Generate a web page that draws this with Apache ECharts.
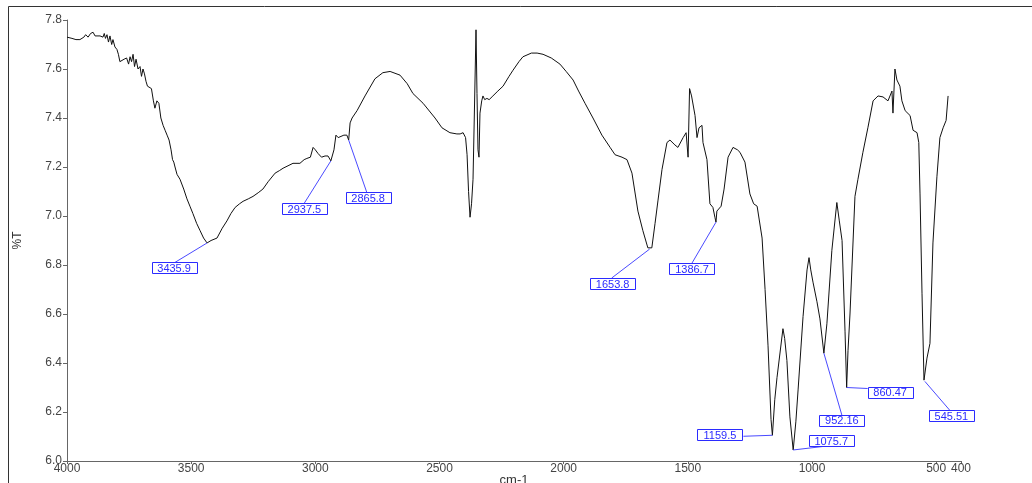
<!DOCTYPE html>
<html><head><meta charset="utf-8">
<script src="https://cdn.jsdelivr.net/npm/echarts@6/dist/echarts.min.js"></script>
<style>html,body{margin:0;padding:0;background:#fff}#c{width:1032px;height:483px}</style>
</head><body><div id="c"></div>
<script>
// Spectrum (wavenumber, %T)
const wavenumbers = [
 4000,3996,3980,3964,3948,3932,3925,3915,3905,3895,3887,3879,3867,3860,3855,3850,3845,3839,3833,3827,
 3820,3815,3807,3799,3793,3787,3780,3770,3760,3752,3746,3740,3734,3728,3722,3714,3706,3700,3694,3688,
 3682,3676,3668,3660,3652,3646,3638,3630,3622,3613,3605,3597,3589,3581,3575,3570,3565,3557,3545,3530,
 3517,3505,3493,3478,3464,3450,3436,3420,3396,3375,3356,3340,3323,3305,3291,3270,3251,3230,3211,3190,
 3162,3145,3130,3110,3090,3062,3045,3034,3020,3009,3000,2989,2975,2961,2949,2937.5,2925,2917,2908,2901,
 2885,2873,2865.8,2860,2852,2832,2800,2760,2728,2699,2659,2630,2607,2566,2518,2490,2458,2430,2417,2405,
 2395,2389,2383,2377,2371,2365,2360,2353,2349,2345,2341,2337,2330,2325,2318,2309,2300,2285,2265,2244,
 2220,2204,2180,2164,2130,2107,2083,2050,2015,1990,1962,1940,1914,1882,1846,1813,1793,1765,1745,1725,
 1701,1681,1661,1653.8,1645,1632,1620,1604,1584,1572,1552,1540,1519,1507,1499,1493,1485,1471,1463,1455,
 1443,1439,1423,1411,1399,1391,1386.7,1383,1366,1354,1338,1318,1300,1290,1270,1250,1235,1221,1201,1189,
 1177,1165,1159.5,1150,1141,1117,1110,1101,1089,1075.7,1065,1056,1036,1020,1012,1005,996,980,968,952.16,
 940,920,900,890,879,867,860.47,855,847,827,815,795,775,754,734,714,694,678,674,666,
 658,646,638,625,605,593,577,570,565,557,549,545.51,537,525,513,497,485,472,460,452
];
const transmittance = [
 7.73,7.73,7.725,7.72,7.72,7.73,7.74,7.73,7.745,7.75,7.735,7.74,7.735,7.74,7.73,7.745,7.725,7.74,7.71,7.735,
 7.70,7.72,7.69,7.68,7.66,7.63,7.63,7.64,7.645,7.62,7.65,7.63,7.66,7.61,7.64,7.60,7.61,7.57,7.60,7.58,
 7.55,7.53,7.535,7.52,7.47,7.44,7.47,7.46,7.40,7.37,7.35,7.33,7.31,7.27,7.23,7.22,7.20,7.17,7.15,7.11,
 7.07,7.04,7.01,6.97,6.94,6.91,6.89,6.90,6.91,6.95,6.98,7.01,7.035,7.05,7.06,7.07,7.08,7.095,7.11,7.14,
 7.175,7.185,7.195,7.205,7.215,7.215,7.23,7.235,7.24,7.28,7.27,7.255,7.24,7.245,7.245,7.225,7.27,7.33,7.32,7.32,
 7.33,7.33,7.31,7.38,7.40,7.43,7.49,7.56,7.585,7.59,7.575,7.54,7.50,7.46,7.40,7.36,7.34,7.335,7.335,7.34,
 7.32,7.25,7.10,6.995,7.05,7.15,7.40,7.76,7.50,7.27,7.24,7.42,7.47,7.49,7.475,7.48,7.475,7.49,7.51,7.53,
 7.57,7.595,7.63,7.65,7.665,7.665,7.66,7.645,7.62,7.59,7.555,7.51,7.46,7.40,7.33,7.28,7.25,7.24,7.23,7.175,
 7.02,6.94,6.87,6.865,6.87,6.97,7.065,7.19,7.30,7.31,7.29,7.28,7.32,7.34,7.24,7.52,7.49,7.41,7.32,7.36,
 7.37,7.30,7.23,7.05,7.035,6.995,6.975,7.02,7.04,7.11,7.24,7.28,7.27,7.26,7.22,7.09,7.05,7.04,6.91,6.70,
 6.47,6.17,6.105,6.25,6.34,6.54,6.50,6.41,6.18,6.045,6.16,6.29,6.59,6.78,6.83,6.78,6.73,6.65,6.58,6.44,
 6.56,6.86,7.055,6.98,6.90,6.53,6.30,6.45,6.60,7.08,7.15,7.26,7.36,7.47,7.49,7.486,7.47,7.51,7.42,7.60,
 7.555,7.53,7.47,7.43,7.41,7.35,7.34,7.30,7.09,6.685,6.33,6.325,6.42,6.48,6.89,7.16,7.32,7.36,7.39,7.49
];
// Labelled peaks
const peakWavenumbers = [3435.9, 2937.5, 2865.8, 1653.8, 1386.7, 1159.5, 1075.7, 952.16, 860.47, 545.51];
const peakValues      = [6.89,   7.225,  7.31,   6.865,  6.975,  6.105,  6.045,  6.44,   6.30,   6.325];
const xTickValues = [4000, 3500, 3000, 2500, 2000, 1500, 1000, 500, 400];

// Annotation layout (pixel offsets from each peak: box centre dx,dy; leader end dx,dy)
const annotationLayout = [
 [-33, 25.5, -33, 20], [-26.5, 48.5, -27, 43], [19.5, 58, 18, 52], [-37, 35, -38, 29],
 [-24, 47, -24, 41], [-52.5, 0, -29, 1], [38, -9, 34, -4], [18, 67.5, 18, 62],
 [43.5, 5, 21, 1], [26.5, 35, 25, 29]
];

const chart = echarts.init(document.getElementById('c'), null, {renderer: 'canvas'});
const font = '"Liberation Sans", Arial, sans-serif';
const blue = '#2b2bff';
chart.setOption({
  animation: false,
  backgroundColor: '#fff',
  grid: {left: 67, top: 20, right: 71, bottom: 22, containLabel: false, outerBoundsMode: 'none'},
  xAxis: {
    type: 'value', min: 400, max: 4000, inverse: true,
    name: 'cm-1', nameLocation: 'middle', nameGap: 13, nameMoveOverlap: false,
    nameTextStyle: {fontFamily: font, fontSize: 13, color: '#333', verticalAlign: 'top'},
    axisLine: {lineStyle: {color: '#666', width: 1}},
    axisTick: {show: true, length: 3, customValues: xTickValues, lineStyle: {color: '#666'}},
    axisLabel: {customValues: xTickValues, margin: 2, fontFamily: font, fontSize: 12, color: '#444',
      formatter: v => String(v)},
    splitLine: {show: false}
  },
  yAxis: {
    type: 'value', min: 6.0, max: 7.8, interval: 0.2,
    name: '%T', nameLocation: 'middle', nameGap: 43, nameRotate: 90, nameMoveOverlap: false,
    nameTextStyle: {fontFamily: font, fontSize: 12, color: '#333'},
    axisLine: {show: true, lineStyle: {color: '#666', width: 1}},
    axisTick: {show: true, length: 4, lineStyle: {color: '#666'}},
    axisLabel: {margin: 5, fontFamily: font, fontSize: 12, color: '#444', formatter: v => v.toFixed(1)},
    splitLine: {show: false}
  },
  graphic: [{
    type: 'polyline', silent: true,
    shape: {points: [[8.5, 483], [8.5, 6.5], [1032, 6.5]]},
    style: {stroke: '#333', fill: null, lineWidth: 1}
  }],
  series: [
    {
      type: 'line', showSymbol: false, symbol: 'none',
      data: wavenumbers.map((w, i) => [w, transmittance[i]]),
      lineStyle: {color: '#111', width: 1}, z: 2
    },
    {
      type: 'custom', clip: false, z: 5,
      data: peakWavenumbers.map((w, i) => [w, peakValues[i]]),
      renderItem: function (params, api) {
        const p = api.coord([api.value(0), api.value(1)]);
        const L = annotationLayout[params.dataIndex];
        const cx = p[0] + L[0], cy = p[1] + L[1];
        const txt = String(peakWavenumbers[params.dataIndex]);
        return {
          type: 'group',
          children: [
            {type: 'line', shape: {x1: p[0], y1: p[1], x2: p[0] + L[2], y2: p[1] + L[3]},
             style: {stroke: '#4a4aff', lineWidth: 1}},
            {type: 'rect', shape: {x: Math.round(cx - 22.5) + 0.5, y: Math.round(cy - 6) + 0.5, width: 45, height: 11},
             style: {fill: '#fff', stroke: blue, lineWidth: 1}},
            {type: 'text', style: {text: txt, x: cx, y: cy + 0.5, align: 'center', verticalAlign: 'middle',
             fill: blue, font: '11px ' + font}}
          ]
        };
      }
    }
  ]
});
</script>
</body></html>
